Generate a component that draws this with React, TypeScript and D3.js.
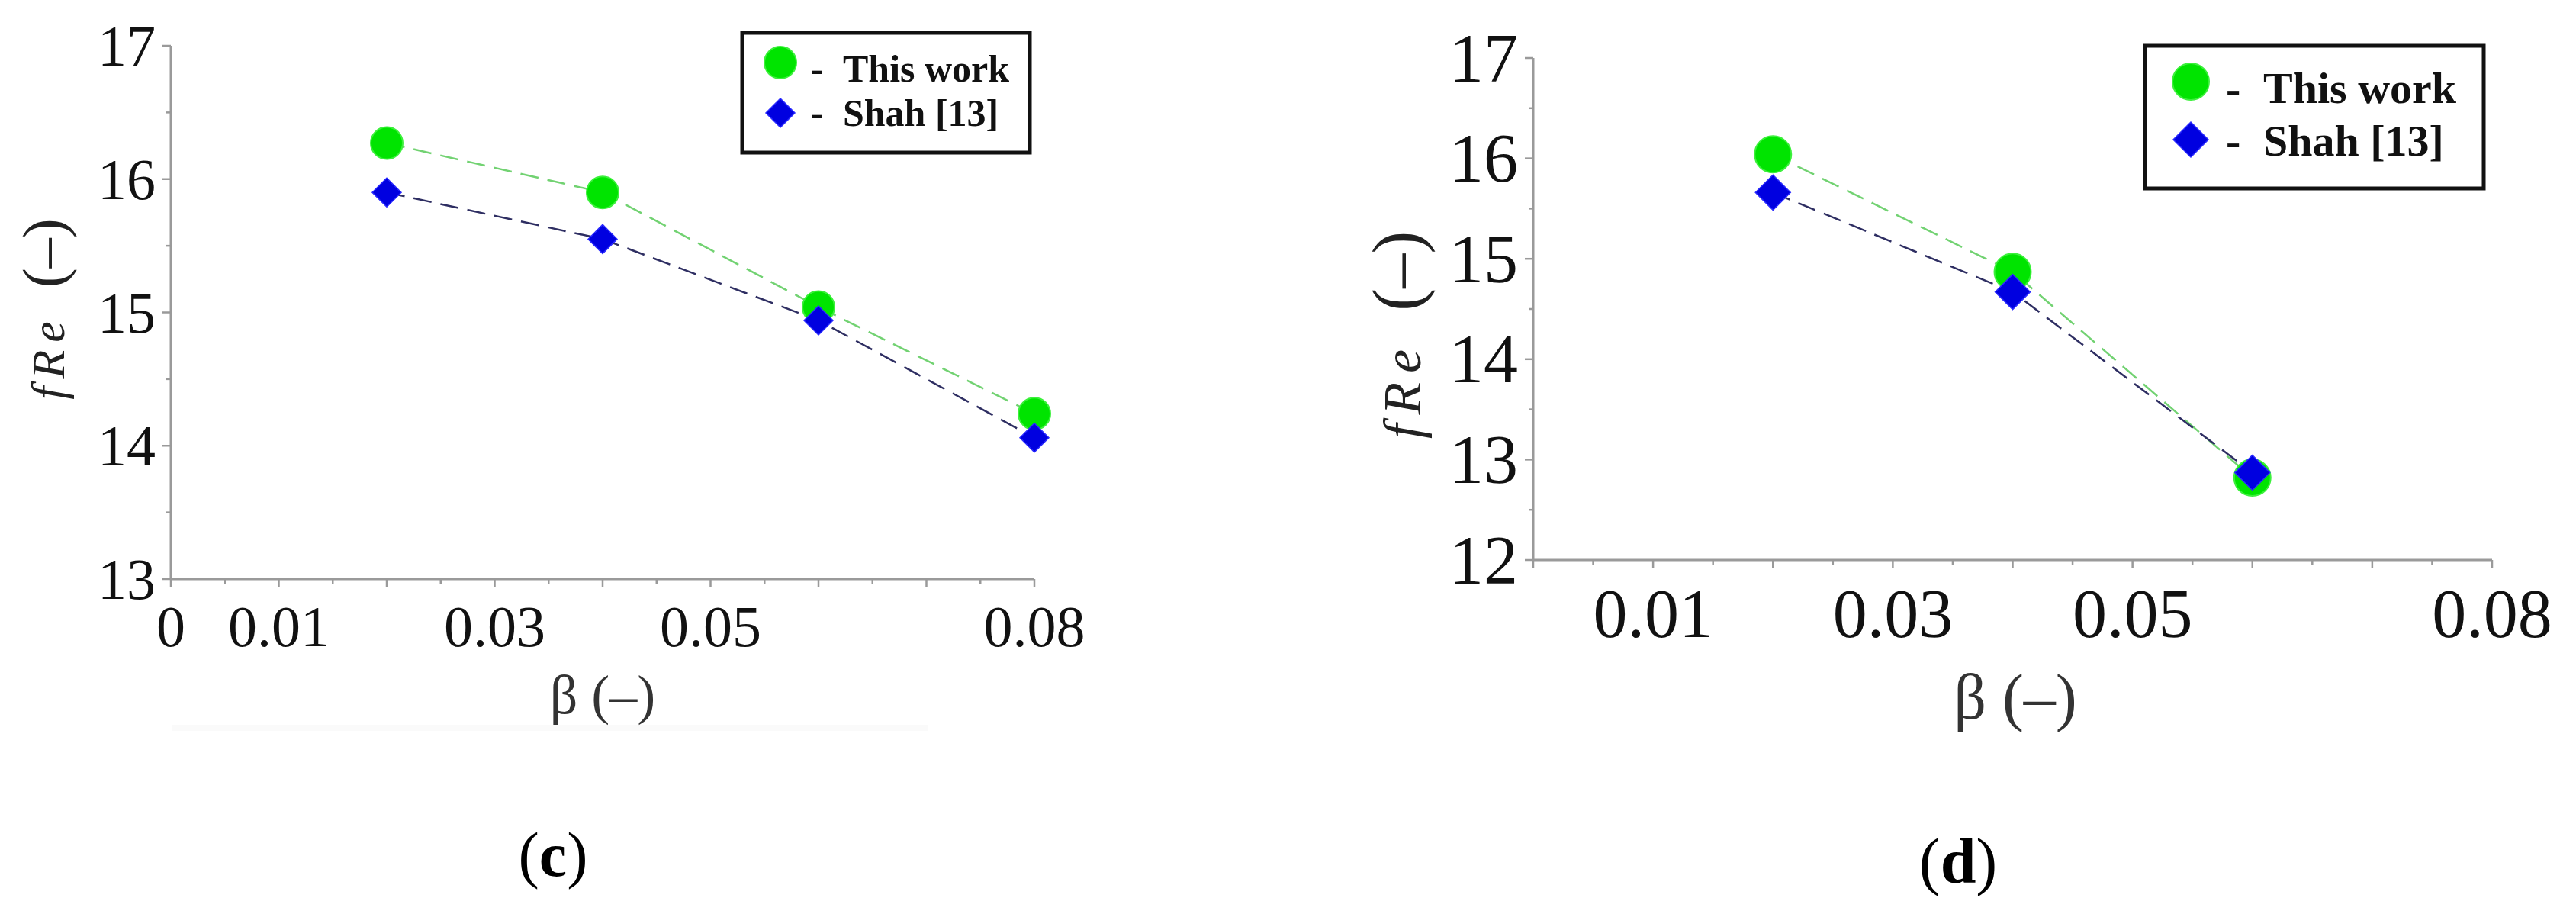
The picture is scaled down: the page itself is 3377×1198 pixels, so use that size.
import React from 'react'
import * as d3 from 'd3'

// ---- data ----
const seriesNames = ['This work', 'Shah [13]']

const betaC = [0.02, 0.04, 0.06, 0.08]
const thisWorkC = [16.27, 15.9, 15.04, 14.24]
const shahC = [15.9, 15.55, 14.94, 14.06]
const xTickLabelsC = [0, 0.01, 0.03, 0.05, 0.08]
const yTickLabelsC = [13, 14, 15, 16, 17]

const betaD = [0.02, 0.04, 0.06]
const thisWorkD = [16.04, 14.87, 12.82]
const shahD = [15.66, 14.67, 12.87]
const xTickLabelsD = [0.01, 0.03, 0.05, 0.08]
const yTickLabelsD = [12, 13, 14, 15, 16, 17]

const FONT = "'Liberation Serif','Times New Roman',serif"
const AXIS = '#9a9a9a'

type Layout = {
  x0: number
  x1: number
  yTop: number
  yBottom: number
  tickFont: number
  xTickBase: number
  xLabel: { x: number; y: number; size: number }
  yLabel: { x: number; y: number; size: number; parenSize: number; spacing: number; gap: number }
  legend: {
    x: number; y: number; w: number; h: number; font: number
    mx: number; my: number[]; dashX: number; textX: number; base: number[]
  }
  r: number
  dia: number
  letter: { x: number; y: number; size: number; text: string }
}

function Panel({ beta, a, b, xTicks, yTicks, L }: {
  beta: number[]; a: number[]; b: number[]; xTicks: number[]; yTicks: number[]; L: Layout
}) {
  const x = d3.scaleLinear().domain([0, 0.08]).range([L.x0, L.x1])
  const y = d3.scaleLinear().domain([d3.min(yTicks)!, d3.max(yTicks)!]).range([L.yBottom, L.yTop])
  const line = d3.line<number>().x((_, i) => x(beta[i])).y((v) => y(v))
  const diamond = (cx: number, cy: number, h: number) =>
    `M${cx},${cy - h}L${cx + h},${cy}L${cx},${cy + h}L${cx - h},${cy}Z`

  const xMinor = d3.range(0, 0.0801, 0.005)
  const yMinor = d3.range(d3.min(yTicks)!, d3.max(yTicks)! + 0.01, 0.5)
  const lg = L.legend

  return (
    <g>
      {/* axes */}
      <line x1={L.x0} x2={L.x1} y1={L.yBottom} y2={L.yBottom} stroke={AXIS} strokeWidth={3} />
      <line x1={L.x0} x2={L.x0} y1={L.yBottom} y2={L.yTop} stroke={AXIS} strokeWidth={3} />
      {xMinor.map((t, i) => (
        <line key={'xm' + i} x1={x(t)} x2={x(t)} y1={L.yBottom} y2={L.yBottom + (i % 2 === 0 ? 11 : 7)}
          stroke={AXIS} strokeWidth={2.5} />
      ))}
      {yMinor.map((t, i) => (
        <line key={'ym' + i} x1={L.x0} x2={L.x0 - (i % 2 === 0 ? 11 : 6)} y1={y(t)} y2={y(t)}
          stroke={AXIS} strokeWidth={2.5} />
      ))}
      {xTicks.map((t) => (
        <text key={'xt' + t} x={x(t)} y={L.xTickBase} textAnchor="middle" fontFamily={FONT}
          fontSize={L.tickFont} fill="#111">{t === 0 ? '0' : String(t)}</text>
      ))}
      {yTicks.map((t) => (
        <text key={'yt' + t} x={L.x0 - 20} y={y(t)} textAnchor="end" dominantBaseline="central"
          fontFamily={FONT} fontSize={L.tickFont} fill="#111">{t}</text>
      ))}

      {/* axis titles */}
      <text x={L.xLabel.x} y={L.xLabel.y} textAnchor="middle" fontFamily={FONT}
        fontSize={L.xLabel.size} fill="#333">β (–)</text>
      <text transform={`translate(${L.yLabel.x},${L.yLabel.y}) rotate(-90)`} textAnchor="middle"
        fontFamily={FONT} fill="#222">
        <tspan fontStyle="italic" fontSize={L.yLabel.size} letterSpacing={L.yLabel.spacing}>fRe</tspan>
        <tspan fontSize={L.yLabel.parenSize} dx={L.yLabel.gap}>(–)</tspan>
      </text>

      {/* series lines */}
      <path d={line(a)!} fill="none" stroke="#72d272" strokeWidth={2.5} strokeDasharray="24 12" />
      <path d={line(b)!} fill="none" stroke="#2e2e62" strokeWidth={2.5} strokeDasharray="24 12" />

      {/* markers */}
      {a.map((v, i) => (
        <circle key={'c' + i} cx={x(beta[i])} cy={y(v)} r={L.r} fill="#00e400" stroke="#3cf03c" strokeWidth={2} />
      ))}
      {b.map((v, i) => (
        <path key={'d' + i} d={diamond(x(beta[i]), y(v), L.dia)} fill="#0000e0" stroke="#2a2aff" strokeWidth={1.5} />
      ))}

      {/* legend */}
      <rect x={lg.x} y={lg.y} width={lg.w} height={lg.h} fill="#fff" stroke="#111" strokeWidth={5} />
      <circle cx={lg.x + lg.mx} cy={lg.y + lg.my[0]} r={L.r} fill="#00e400" stroke="#3cf03c" strokeWidth={2} />
      <path d={diamond(lg.x + lg.mx, lg.y + lg.my[1], L.dia)} fill="#0000e0" stroke="#2a2aff" strokeWidth={1.5} />
      {seriesNames.map((s, i) => (
        <g key={s}>
          <text x={lg.x + lg.dashX} y={lg.y + lg.base[i]} fontFamily={FONT} fontWeight="bold"
            fontSize={lg.font} fill="#111">-</text>
          <text x={lg.x + lg.textX} y={lg.y + lg.base[i]} fontFamily={FONT} fontWeight="bold"
            fontSize={lg.font} fill="#111">{s}</text>
        </g>
      ))}

      {/* panel letter */}
      <text x={L.letter.x} y={L.letter.y} textAnchor="middle" fontFamily={FONT} fontSize={L.letter.size} fill="#000">
        (<tspan fontWeight="bold">{L.letter.text}</tspan>)
      </text>
    </g>
  )
}

const layoutC: Layout = {
  x0: 224, x1: 1356, yTop: 60, yBottom: 759,
  tickFont: 76, xTickBase: 847,
  xLabel: { x: 790, y: 935, size: 72 },
  yLabel: { x: 84, y: 405, size: 62, parenSize: 78, spacing: 10, gap: 34 },
  legend: { x: 973, y: 43, w: 377, h: 157, font: 50, mx: 50, my: [39, 105], dashX: 90, textX: 132, base: [64, 122] },
  r: 21, dia: 19,
  letter: { x: 725, y: 1148, size: 82, text: 'c' },
}

const layoutD: Layout = {
  x0: 2010, x1: 3267, yTop: 76, yBottom: 734,
  tickFont: 90, xTickBase: 835,
  xLabel: { x: 2642, y: 942, size: 84 },
  yLabel: { x: 1862, y: 439, size: 70, parenSize: 90, spacing: 12, gap: 38 },
  legend: { x: 2812, y: 60, w: 444, h: 187, font: 58, mx: 60, my: [47, 123], dashX: 106, textX: 155, base: [75, 144] },
  r: 24, dia: 23,
  letter: { x: 2567, y: 1157, size: 84, text: 'd' },
}

export default function App() {
  return (
    <svg width={3377} height={1198} style={{ position: 'absolute', left: 0, top: 0, background: '#fff' }}>
      <rect width={3377} height={1198} fill="#fff" />
      <rect x={226} y={950} width={991} height={8} fill="#fafafa" />
      <Panel beta={betaC} a={thisWorkC} b={shahC} xTicks={xTickLabelsC} yTicks={yTickLabelsC} L={layoutC} />
      <Panel beta={betaD} a={thisWorkD} b={shahD} xTicks={xTickLabelsD} yTicks={yTickLabelsD} L={layoutD} />
    </svg>
  )
}
